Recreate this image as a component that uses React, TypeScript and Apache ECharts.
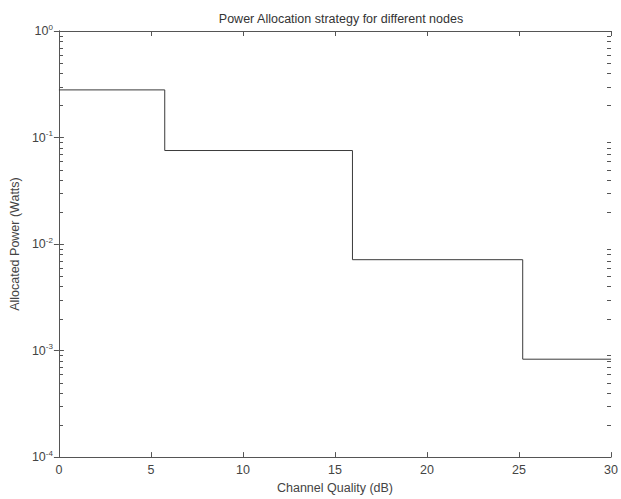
import React, { useEffect, useRef } from "react";
import * as echarts from "echarts";

const title = "Power Allocation strategy for different nodes";
const xName = "Channel Quality (dB)";
const yName = "Allocated Power (Watts)";
const xTicks = [0, 5, 10, 15, 20, 25, 30];
const yExponents = [-4, -3, -2, -1, 0];
// step change points (x in dB, allocated power in W)
const stepX = [0, 5.75, 15.95, 25.2, 30];
const stepY = [0.28, 0.0755, 0.00713, 0.00083, 0.00083];
const minorMultipliers = [2, 3, 4, 5, 6, 7, 8, 9];

export default function App() {
  const ref = useRef<HTMLDivElement>(null);
  useEffect(() => {
    if (!ref.current) return;
    const chart = echarts.init(ref.current, undefined, { renderer: "svg" });
    const xLo = xTicks[0];
    const xHi = xTicks[xTicks.length - 1];
    const minorVals: number[] = [];
    yExponents.slice(0, -1).forEach((e) => {
      minorMultipliers.forEach((m) => minorVals.push(m * Math.pow(10, e)));
    });
    const axisColor = "#555";
    const textColor = "#444";
    const font = "Liberation Sans, Arial, sans-serif";
    const yMin = Math.pow(10, yExponents[0]);
    const yMax = Math.pow(10, yExponents[yExponents.length - 1]);
    const tickSeries = (side: "l" | "r") => ({
      type: "custom",
      xAxisIndex: 0,
      yAxisIndex: 0,
      clip: false,
      silent: true,
      z: 10,
      data: minorVals.map((v) => [side === "l" ? xLo : xHi, v]),
      encode: { x: 0, y: 1 },
      renderItem: (params: any, api: any) => {
        const p = api.coord([side === "l" ? xLo : xHi, api.value(1)]);
        const x = Math.round(p[0]) + (side === "l" ? 1 : -4);
        const y = Math.round(p[1]);
        return {
          type: "rect",
          shape: { x, y, width: side === "l" ? 3 : 4, height: 1 },
          style: { fill: "#555" },
        };
      },
    });
    chart.setOption({
      animation: false,
      backgroundColor: "#fff",
      title: {
        text: title,
        left: 336,
        textAlign: "center",
        top: 7,
        textStyle: { fontSize: 12.5, fontWeight: "normal", color: "#333", fontFamily: font },
      },
      grid: { left: 57, right: 7, top: 31, bottom: 32, containLabel: false },
      xAxis: [
        {
          type: "value",
          min: xLo,
          max: xHi,
          interval: 5,
          position: "bottom",
          name: xName,
          nameLocation: "middle",
          nameGap: 19,
          nameTextStyle: { fontSize: 12.5, color: textColor, fontFamily: font },
          axisLine: { show: true, lineStyle: { color: axisColor, width: 1 } },
          axisTick: { show: true, inside: true, length: 5, lineStyle: { color: axisColor } },
          axisLabel: { fontSize: 12.5, color: textColor, fontFamily: font, margin: 6 },
          splitLine: { show: false },
        },
        {
          type: "value",
          min: xLo,
          max: xHi,
          interval: 5,
          position: "top",
          axisLine: { show: true, lineStyle: { color: axisColor, width: 1 } },
          axisTick: { show: true, inside: true, length: 5, lineStyle: { color: axisColor } },
          axisLabel: { show: false },
          splitLine: { show: false },
        },
      ],
      yAxis: [
        {
          type: "log",
          logBase: 10,
          min: yMin,
          max: yMax,
          position: "left",
          name: yName,
          nameLocation: "middle",
          nameGap: 31,
          nameTextStyle: { fontSize: 12.5, color: textColor, fontFamily: font },
          axisLine: { show: true, lineStyle: { color: axisColor, width: 1 } },
          axisTick: { show: true, inside: true, length: 5, lineStyle: { color: axisColor } },
          axisLabel: {
            margin: 6,
            formatter: (v: number) => `{b|10}{s|${Math.round(Math.log10(v))}}`,
            rich: {
              b: { fontSize: 12.5, color: textColor, fontFamily: font },
              s: { fontSize: 8, color: textColor, fontFamily: font, verticalAlign: "top", padding: [0, 0, 8, 0] },
            },
          },
          splitLine: { show: false },
        },
        {
          type: "log",
          logBase: 10,
          min: yMin,
          max: yMax,
          position: "right",
          axisLine: { show: true, lineStyle: { color: axisColor, width: 1 } },
          axisTick: { show: true, inside: true, length: 5, lineStyle: { color: axisColor } },
          axisLabel: { show: false },
          splitLine: { show: false },
        },
      ],
      series: [
        {
          type: "line",
          step: "end",
          showSymbol: false,
          symbol: "none",
          data: stepX.map((x, i) => [x, stepY[i]]),
          lineStyle: { color: "#3a3a3a", width: 1 },
          xAxisIndex: 0,
          yAxisIndex: 0,
          z: 3,
        },
        tickSeries("l"),
        tickSeries("r"),
      ],
    });
    return () => chart.dispose();
  }, []);
  return (
    <div
      ref={ref}
      style={{ position: "fixed", left: 0, top: 0, width: 621, height: 499 }}
    />
  );
}
